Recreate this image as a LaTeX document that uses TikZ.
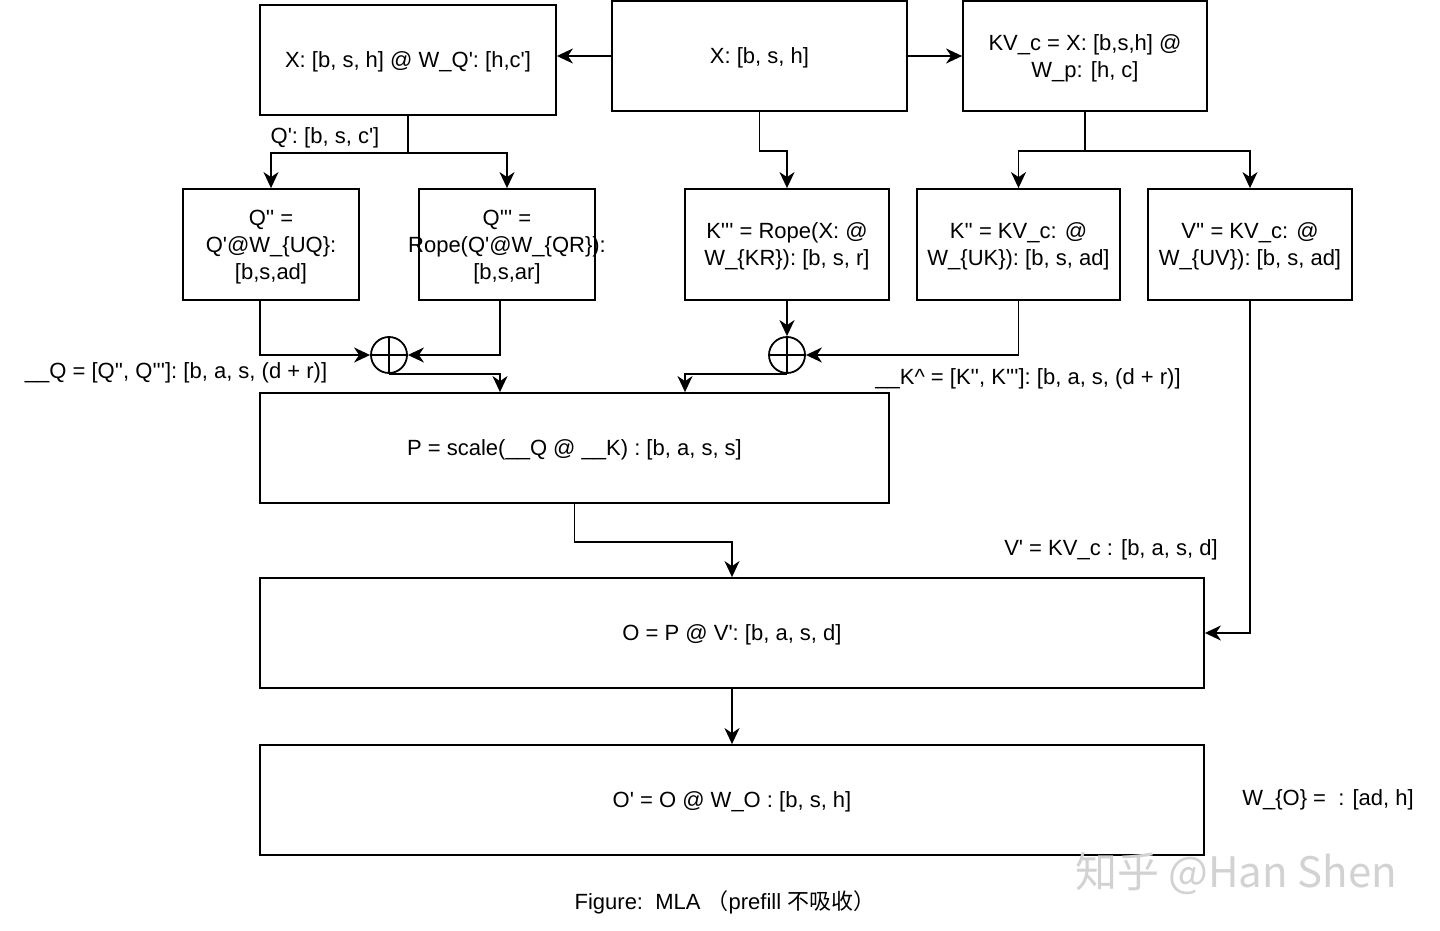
\documentclass[tikz,border=0pt]{standalone}
\usepackage{fontspec}
\setmainfont{Liberation Sans}[Ligatures=TeXOff]
\newfontfamily\cjk{Noto Sans CJK SC}
\usetikzlibrary{arrows.meta}
\begin{document}
\begin{tikzpicture}[x=1pt,y=-1pt,
  line width=1.8pt,
  box/.style={draw, line width=1.8pt, inner sep=0pt},
  txt/.style={align=center, inner sep=0pt, font=\fontsize{22}{27}\selectfont},
  lbl/.style={inner sep=0pt, font=\fontsize{22}{27}\selectfont},
  arr/.style={-{Stealth[length=16pt,width=15pt,inset=5pt]}},
  plus/.style={circle, draw, line width=1.8pt, minimum size=36pt, inner sep=0pt,
    path picture={\draw[line width=1.8pt]
      (path picture bounding box.north) -- (path picture bounding box.south)
      (path picture bounding box.west) -- (path picture bounding box.east);}}]
\fill[white] (0,0) rectangle (1440,931);
% boxes
\node[box, minimum width=296pt, minimum height=110pt] (xq) at (408,60) {};
\node[box, minimum width=295pt, minimum height=110pt] (x) at (759.5,56) {};
\node[box, minimum width=244pt, minimum height=110pt] (kvc) at (1085,56) {};
\node[box, minimum width=176pt, minimum height=111pt] (q2) at (271,244.5) {};
\node[box, minimum width=176pt, minimum height=111pt] (q3) at (507,244.5) {};
\node[box, minimum width=204pt, minimum height=111pt] (k3) at (787,244.5) {};
\node[box, minimum width=203pt, minimum height=111pt] (k2) at (1018.5,244.5) {};
\node[box, minimum width=204pt, minimum height=111pt] (v2) at (1250,244.5) {};
\node[box, minimum width=629pt, minimum height=110pt] (P) at (574.5,448) {};
\node[box, minimum width=944pt, minimum height=110pt] (O) at (732,633) {};
\node[box, minimum width=944pt, minimum height=110pt] (O2) at (732,800) {};
% box texts
\node[txt] (xqt) at ([yshift=-2pt]xq.center) {X: [b, s, h] @ W\_Q': [h,c']};
\node[txt] (xt) at ([yshift=-2pt]x.center) {X: [b, s, h]};
\node[txt] (kvct) at ([yshift=-2pt]kvc.center) {KV\_c = X: [b,s,h] @\\W\_p: [h, c]};
\node[txt] (q2t) at ([yshift=-3pt]q2.center) {Q'' =\\Q'@W\_\{UQ\}:\\{}[b,s,ad]};
\node[txt] (q3t) at ([yshift=-3pt]q3.center) {Q''' =\\\makebox[0pt][c]{Rope(Q'@W\_\{QR\}):}\\{}[b,s,ar]};
\node[txt] (k3t) at ([yshift=-2pt]k3.center) {K''' = Rope(X: @\\W\_\{KR\}): [b, s, r]};
\node[txt] (k2t) at ([yshift=-2pt]k2.center) {K'' = KV\_c: @\\W\_\{UK\}): [b, s, ad]};
\node[txt] (v2t) at ([yshift=-2pt]v2.center) {V'' = KV\_c: @\\W\_\{UV\}): [b, s, ad]};
\node[txt] (Pt) at ([yshift=-2pt]P.center) {P = scale(\_\_Q @ \_\_K) : [b, a, s, s]};
\node[txt] (Ot) at ([yshift=-2pt]O.center) {O = P @ V': [b, a, s, d]};
\node[txt] (O2t) at ([yshift=-2pt]O2.center) {O' = O @ W\_O : [b, s, h]};
% concat circles
\node[plus] (c1) at (389,355) {};
\node[plus] (c2) at (787,355) {};
\coordinate (a260) at (260,0);
\coordinate (a500) at (500,0);
\coordinate (a685) at (685,0);
% connectors
\draw[arr] (x.west) -- (x.west -| xq.east);
\draw[arr] (x.east) -- (kvc.west);
\draw (xq.south) -- ++(0,37) coordinate (qs);
\draw[arr] (qs) -| (q2.north);
\draw[arr] (qs) -| (q3.north);
\draw[arr] (x.south) -- ++(0,39) -| (k3.north);
\draw (kvc.south) -- ++(0,39) coordinate (ks);
\draw[arr] (ks) -| (k2.north);
\draw[arr] (ks) -| (v2.north);
\draw[arr] (q2.south -| a260) |- (c1.west);
\draw[arr] (q3.south -| a500) |- (c1.east);
\draw[arr] (c1.south) -| (P.north -| a500);
\draw[arr] (k3.south) -- (c2.north);
\draw[arr] (k2.south) |- (c2.east);
\draw[arr] (c2.south) -| (P.north -| a685);
\draw[arr] (P.south) -- ++(0,38) -| (O.north);
\draw[arr] (v2.south) |- (O.east);
\draw[arr] (O.south) -- (O2.north);
% labels
\node[lbl] (lq1) at (325,138) {Q': [b, s, c']};
\node[lbl] (lq) at (176,373) {\_\_Q = [Q'', Q''']: [b, a, s, (d + r)]};
\node[lbl] (lk) at (1028,379) {\_\_K\textasciicircum{} = [K'', K''']: [b, a, s, (d + r)]};
\node[lbl] (lv) at (1111,550) {V' = KV\_c : [b, a, s, d]};
\node[lbl] (lw) at (1328,800) {W\_\{O\} =\ \ : [ad, h]};
\node[inner sep=0pt, font=\fontsize{22}{26}\selectfont] (cap) at (725,902) {Figure:\ \ MLA {\cjk （}prefill {\cjk 不吸收）}};
\node[inner sep=0pt, text=gray!35, font=\cjk\fontsize{42}{46}\selectfont] (wm) at (1236,873) {知乎 @Han Shen};
\end{tikzpicture}
\end{document}
